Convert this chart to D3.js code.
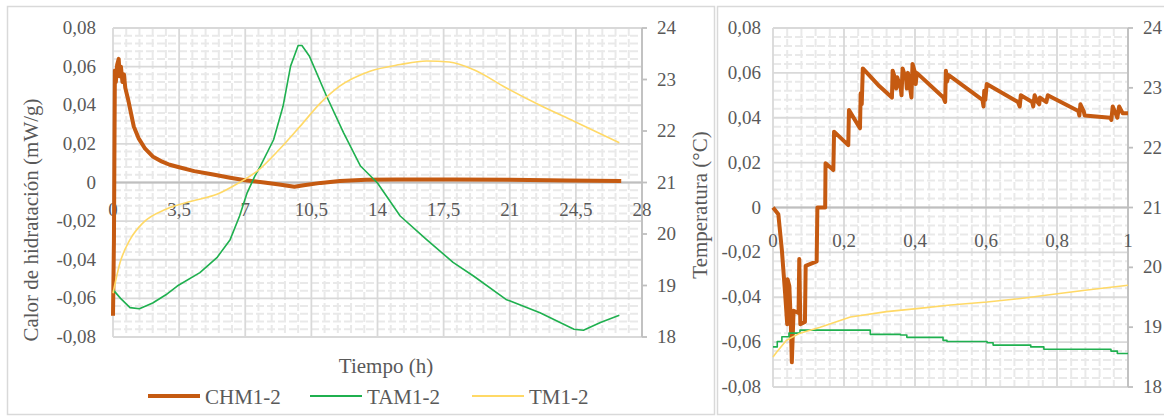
<!DOCTYPE html>
<html>
<head>
<meta charset="utf-8">
<script src="https://cdn.jsdelivr.net/npm/d3@7"></script>
<style>
  body { margin: 0; background: #fff; }
  svg text { font-family: 'Liberation Serif', 'DejaVu Serif', serif; fill: #595959; }
</style>
</head>
<body>
<svg id="chart" width="1164" height="418" font-family="Liberation Serif, DejaVu Serif, serif"></svg>
<script>
// ---- data ----
// left panel: 0 - 27 h
var chmLong = [[0,-0.069],[0.05,-0.03],[0.1,0.058],[0.15,0.052],[0.22,0.061],[0.3,0.064],[0.36,0.055],[0.42,0.06],[0.5,0.052],[0.58,0.056],[0.65,0.049],
  [0.8,0.043],[0.95,0.036],[1.1,0.029],[1.35,0.023],[1.7,0.0175],[2.1,0.0135],[2.6,0.0108],[3,0.0092],[3.5,0.0079],[4.3,0.0059],[5.3,0.0041],
  [6.2,0.0025],[7,0.0012],[8,0.0],[8.8,-0.001],[9.6,-0.0022],[10.1,-0.0014],[11,-0.0002],[12,0.0008],[13.4,0.0014],[15,0.0016],[18,0.0016],
  [21,0.0014],[24,0.0011],[26.9,0.0008]];
var tamLong = [[0,18.92],[0.4,18.75],[0.9,18.57],[1.4,18.55],[2.1,18.66],[2.8,18.82],[3.4,18.99],[4.6,19.25],[5.5,19.54],[6.2,19.89],[6.7,20.35],
  [7.1,20.8],[7.5,21.12],[7.8,21.32],[8.5,21.83],[9.0,22.48],[9.4,23.26],[9.8,23.66],[10.0,23.66],[10.4,23.45],[11.3,22.68],[12.2,21.97],
  [13.1,21.32],[14.0,20.99],[15.2,20.35],[16.6,19.89],[18.0,19.45],[19.1,19.18],[20.8,18.73],[22.6,18.47],[24.4,18.15],[24.9,18.13],
  [25.8,18.28],[26.8,18.42]];
var tmLong = [[0,18.85],[0.37,19.44],[0.9,19.89],[1.6,20.22],[2.8,20.48],[4.2,20.64],[5.5,20.77],[6.6,20.98],[7.7,21.24],[8.8,21.64],[9.9,22.09],
  [11.0,22.55],[12.0,22.87],[13.6,23.16],[15.2,23.29],[16.6,23.36],[17.8,23.34],[19.1,23.19],[20.8,22.84],[22.6,22.5],[24.4,22.19],[26.8,21.77]];

// right panel: first hour
var chmShort = [[0,0],[0.015,-0.003],[0.025,-0.019],[0.034,-0.038],[0.04,-0.052],[0.041,-0.032],[0.046,-0.035],[0.05,-0.05],[0.053,-0.069],
  [0.058,-0.046],[0.072,-0.047],[0.074,-0.023],[0.077,-0.052],[0.09,-0.051],[0.092,-0.026],[0.123,-0.024],[0.125,0],[0.147,0],[0.148,0.0197],
  [0.17,0.0167],[0.172,0.0338],[0.212,0.0278],[0.214,0.0434],[0.245,0.0353],[0.247,0.0509],[0.25,0.046],[0.253,0.062],
  [0.30,0.054],[0.335,0.049],[0.337,0.061],[0.345,0.057],[0.347,0.053],[0.35,0.058],[0.36,0.053],[0.362,0.05],[0.365,0.062],
  [0.375,0.057],[0.377,0.053],[0.38,0.06],[0.39,0.049],[0.393,0.064],[0.40,0.06],[0.402,0.055],[0.405,0.06],
  [0.48,0.049],[0.485,0.047],[0.487,0.061],[0.49,0.056],[0.495,0.059],
  [0.59,0.048],[0.593,0.045],[0.595,0.052],[0.598,0.048],[0.602,0.055],
  [0.69,0.047],[0.695,0.045],[0.698,0.05],[0.73,0.047],[0.733,0.045],[0.737,0.05],[0.745,0.047],[0.75,0.046],[0.752,0.049],
  [0.77,0.047],[0.774,0.05],[0.86,0.043],[0.863,0.041],[0.866,0.046],[0.875,0.043],[0.878,0.041],
  [0.95,0.04],[0.953,0.039],[0.957,0.045],[0.965,0.042],[0.97,0.04],[0.975,0.045],[0.985,0.042],[1.0,0.042]];
var tamShort = [[0,18.67],[0.012,18.76],[0.025,18.84],[0.045,18.9],[0.076,18.95],[0.254,18.95],[0.274,18.88],[0.359,18.87],[0.377,18.83],
  [0.479,18.78],[0.49,18.76],[0.603,18.74],[0.62,18.7],[0.726,18.67],[0.763,18.63],[0.952,18.6],[0.97,18.56],[1.0,18.56]];
var tmShort = [[0,18.5],[0.01,18.58],[0.038,18.78],[0.076,18.9],[0.133,19.0],[0.218,19.17],[0.32,19.26],[0.405,19.31],[0.5,19.37],
  [0.603,19.42],[0.698,19.48],[0.79,19.55],[0.885,19.62],[1.0,19.7]];

var seriesNames = ["CHM1-2", "TAM1-2", "TM1-2"];
var seriesColors = ["#C55A11", "#1FB04F", "#FFD966"];
var leftTicks = [-0.08, -0.06, -0.04, -0.02, 0, 0.02, 0.04, 0.06, 0.08];
var tempTicks = [18, 19, 20, 21, 22, 23, 24];
var xTicksLong = [0, 3.5, 7, 10.5, 14, 17.5, 21, 24.5, 28];
var xTicksShort = [0, 0.2, 0.4, 0.6, 0.8, 1];

var FONT = "'Liberation Serif', 'DejaVu Serif', serif";
var svg = d3.select("#chart");
var fmt = function (v) { return String(+v.toFixed(2)).replace(".", ","); };

// panel frames
svg.append("rect").attr("x", 7.5).attr("y", 6.5).attr("width", 707).attr("height", 408)
  .attr("fill", "#fff").attr("stroke", "#d9d9d9").attr("stroke-width", 1.5);
svg.append("rect").attr("x", 717.5).attr("y", 6.5).attr("width", 450).attr("height", 408)
  .attr("fill", "#fff").attr("stroke", "#d9d9d9").attr("stroke-width", 1.5);

function drawPanel(p) {
  var x = d3.scaleLinear().domain(p.xDomain).range([p.x0, p.x1]);
  var y = d3.scaleLinear().domain([-0.08, 0.08]).range([p.y1, p.y0]);
  var yt = d3.scaleLinear().domain([18, 24]).range([p.y1, p.y0]);
  var g = svg.append("g");

  // minor grid
  var xs = p.xTicks, step = xs[1] - xs[0];
  var minorX = [], minorY = [];
  for (var i = 0; i < xs.length - 1; i++)
    for (var k = 1; k < 5; k++) minorX.push(xs[i] + step * k / 5);
  for (var j = 0; j < leftTicks.length - 1; j++)
    for (var k2 = 1; k2 < 5; k2++) minorY.push(leftTicks[j] + 0.02 * k2 / 5);
  g.selectAll(".mx").data(minorX).enter().append("line")
    .attr("x1", function (d) { return x(d); }).attr("x2", function (d) { return x(d); })
    .attr("y1", p.y0).attr("y2", p.y1)
    .attr("stroke", "#e9e9e9").attr("stroke-width", 2).attr("stroke-dasharray", "8,3");
  g.selectAll(".my").data(minorY).enter().append("line")
    .attr("x1", p.x0).attr("x2", p.x1)
    .attr("y1", function (d) { return y(d); }).attr("y2", function (d) { return y(d); })
    .attr("stroke", "#e9e9e9").attr("stroke-width", 2).attr("stroke-dasharray", "8,3");

  // major grid
  g.selectAll(".gx").data(xs).enter().append("line")
    .attr("x1", function (d) { return x(d); }).attr("x2", function (d) { return x(d); })
    .attr("y1", p.y0).attr("y2", p.y1)
    .attr("stroke", "#d9d9d9").attr("stroke-width", 1.8);
  g.selectAll(".gy").data(leftTicks).enter().append("line")
    .attr("x1", p.x0).attr("x2", p.x1)
    .attr("y1", function (d) { return y(d); }).attr("y2", function (d) { return y(d); })
    .attr("stroke", "#d9d9d9").attr("stroke-width", 1.8);

  // right axis line and ticks
  g.append("line").attr("x1", p.x1).attr("x2", p.x1).attr("y1", p.y0).attr("y2", p.y1)
    .attr("stroke", "#bfbfbf").attr("stroke-width", 1.8);
  g.selectAll(".rt").data(tempTicks).enter().append("line")
    .attr("x1", p.x1).attr("x2", p.x1 + 5)
    .attr("y1", function (d) { return yt(d); }).attr("y2", function (d) { return yt(d); })
    .attr("stroke", "#bfbfbf").attr("stroke-width", 1.8);
  g.append("line").attr("x1", p.x0).attr("x2", p.x1).attr("y1", y(0)).attr("y2", y(0))
    .attr("stroke", "#bfbfbf").attr("stroke-width", 1.8);

  // labels
  g.selectAll(".ly").data(leftTicks).enter().append("text")
    .attr("x", p.x0 - p.lyGap).attr("y", function (d) { return y(d) + 6; })
    .attr("text-anchor", "end").attr("font-family", FONT).attr("font-size", 19).text(fmt);
  g.selectAll(".ry").data(tempTicks).enter().append("text")
    .attr("x", p.x1 + 15).attr("y", function (d) { return yt(d) + 6; })
    .attr("font-family", FONT).attr("font-size", 19).text(function (d) { return d; });
  g.selectAll(".lx").data(xs).enter().append("text")
    .attr("x", function (d) { return x(d); }).attr("y", y(0) + p.xLabDy)
    .attr("text-anchor", "middle").attr("font-family", FONT).attr("font-size", 19).text(fmt);

  // series
  var sets = [p.chm, p.tam, p.tm];
  var scales = [y, yt, yt];
  var widths = [4, 1.6, 1.6];
  sets.forEach(function (data, si) {
    var line = d3.line()
      .x(function (d) { return x(d[0]); })
      .y(function (d) { return scales[si](d[1]); })
      .curve(p.curves[si]);
    g.append("path").datum(data).attr("d", line)
      .attr("fill", "none").attr("stroke", seriesColors[si])
      .attr("stroke-width", widths[si]).attr("stroke-linejoin", "round");
  });
}

drawPanel({
  xDomain: [0, 28], x0: 113, x1: 642, y0: 28, y1: 337,
  xTicks: xTicksLong, lyGap: 17, xLabDy: 33,
  chm: chmLong, tam: tamLong, tm: tmLong,
  curves: [d3.curveLinear, d3.curveLinear, d3.curveMonotoneX]
});
drawPanel({
  xDomain: [0, 1], x0: 773, x1: 1128, y0: 28, y1: 387,
  xTicks: xTicksShort, lyGap: 12, xLabDy: 39,
  chm: chmShort, tam: tamShort, tm: tmShort,
  curves: [d3.curveLinear, d3.curveStepAfter, d3.curveLinear]
});

// axis titles
svg.append("text").attr("transform", "translate(38,220) rotate(-90)")
  .attr("text-anchor", "middle").attr("font-family", FONT).attr("font-size", 21).text("Calor de hidratación (mW/g)");
svg.append("text").attr("transform", "translate(707,205) rotate(-90)")
  .attr("text-anchor", "middle").attr("font-family", FONT).attr("font-size", 21).text("Temperatura (°C)");
svg.append("text").attr("x", 386).attr("y", 373)
  .attr("text-anchor", "middle").attr("font-family", FONT).attr("font-size", 21).text("Tiempo (h)");

// legend
var legX = [148, 310, 472];
var leg = svg.selectAll(".leg").data(seriesNames).enter().append("g")
  .attr("transform", function (d, i) { return "translate(" + legX[i] + ",396)"; });
leg.append("line").attr("x1", 0).attr("x2", 52).attr("y1", 0).attr("y2", 0)
  .attr("stroke", function (d, i) { return seriesColors[i]; })
  .attr("stroke-width", function (d, i) { return i === 0 ? 4 : 1.8; });
leg.append("text").attr("x", 57).attr("y", 8).attr("font-family", FONT).attr("font-size", 21)
  .text(function (d) { return d; });
</script>
</body>
</html>
